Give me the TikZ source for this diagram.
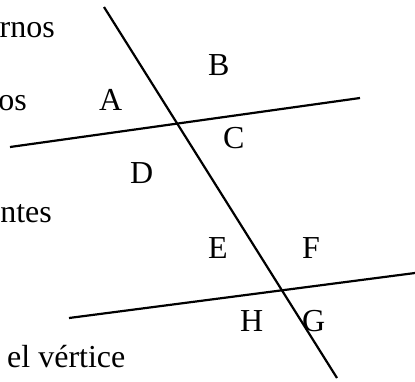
\documentclass[tikz,border=0pt]{standalone}
\usepackage{fontspec}
\setmainfont{Liberation Serif}
\usetikzlibrary{positioning}
\tikzset{
  recta/.style={line width=2.2pt},
  etiq/.style={inner sep=0pt, font=\fontsize{32}{38}\selectfont},
}

\begin{document}
\begin{tikzpicture}[x=1pt, y=-1pt]
    \useasboundingbox (0,0) rectangle (415,381);

    % secante y paralelas
    \coordinate (sec1) at (104,7);
    \coordinate (sec2) at (337,378);
    \coordinate (par1a) at (10,147);
    \coordinate (par1b) at (360,98);
    \coordinate (par2a) at (69,318);
    \coordinate (par2b) at (415,273);
    \draw[recta] (sec1) -- (sec2);
    \draw[recta] (par1a) -- (par1b);
    \draw[recta] (par2a) -- (par2b);

    % textos cortados a la izquierda
    \node[etiq, anchor=base east] (txtrnos) at (55,37) {rnos};
    \node[etiq, anchor=base east] (txtos) at (27,110) {os};
    \node[etiq, anchor=base east] (txtntes) at (52,222) {ntes};
    \node[etiq, anchor=base west] (txtvert) at (7,367) {el vértice};

    % angulos
    \node[etiq, anchor=base west] (angA) at (99,110) {A};
    \node[etiq, anchor=base west] (angB) at (208,75) {B};
    \node[etiq, anchor=base west] (angC) at (223,148) {C};
    \node[etiq, anchor=base west] (angD) at (130,183) {D};
    \node[etiq, anchor=base west] (angE) at (208,258) {E};
    \node[etiq, anchor=base west] (angF) at (302,258) {F};
    \node[etiq, anchor=base west] (angH) at (240,331) {H};
    \node[etiq, anchor=base west] (angG) at (302,331) {G};
\end{tikzpicture}
\end{document}
